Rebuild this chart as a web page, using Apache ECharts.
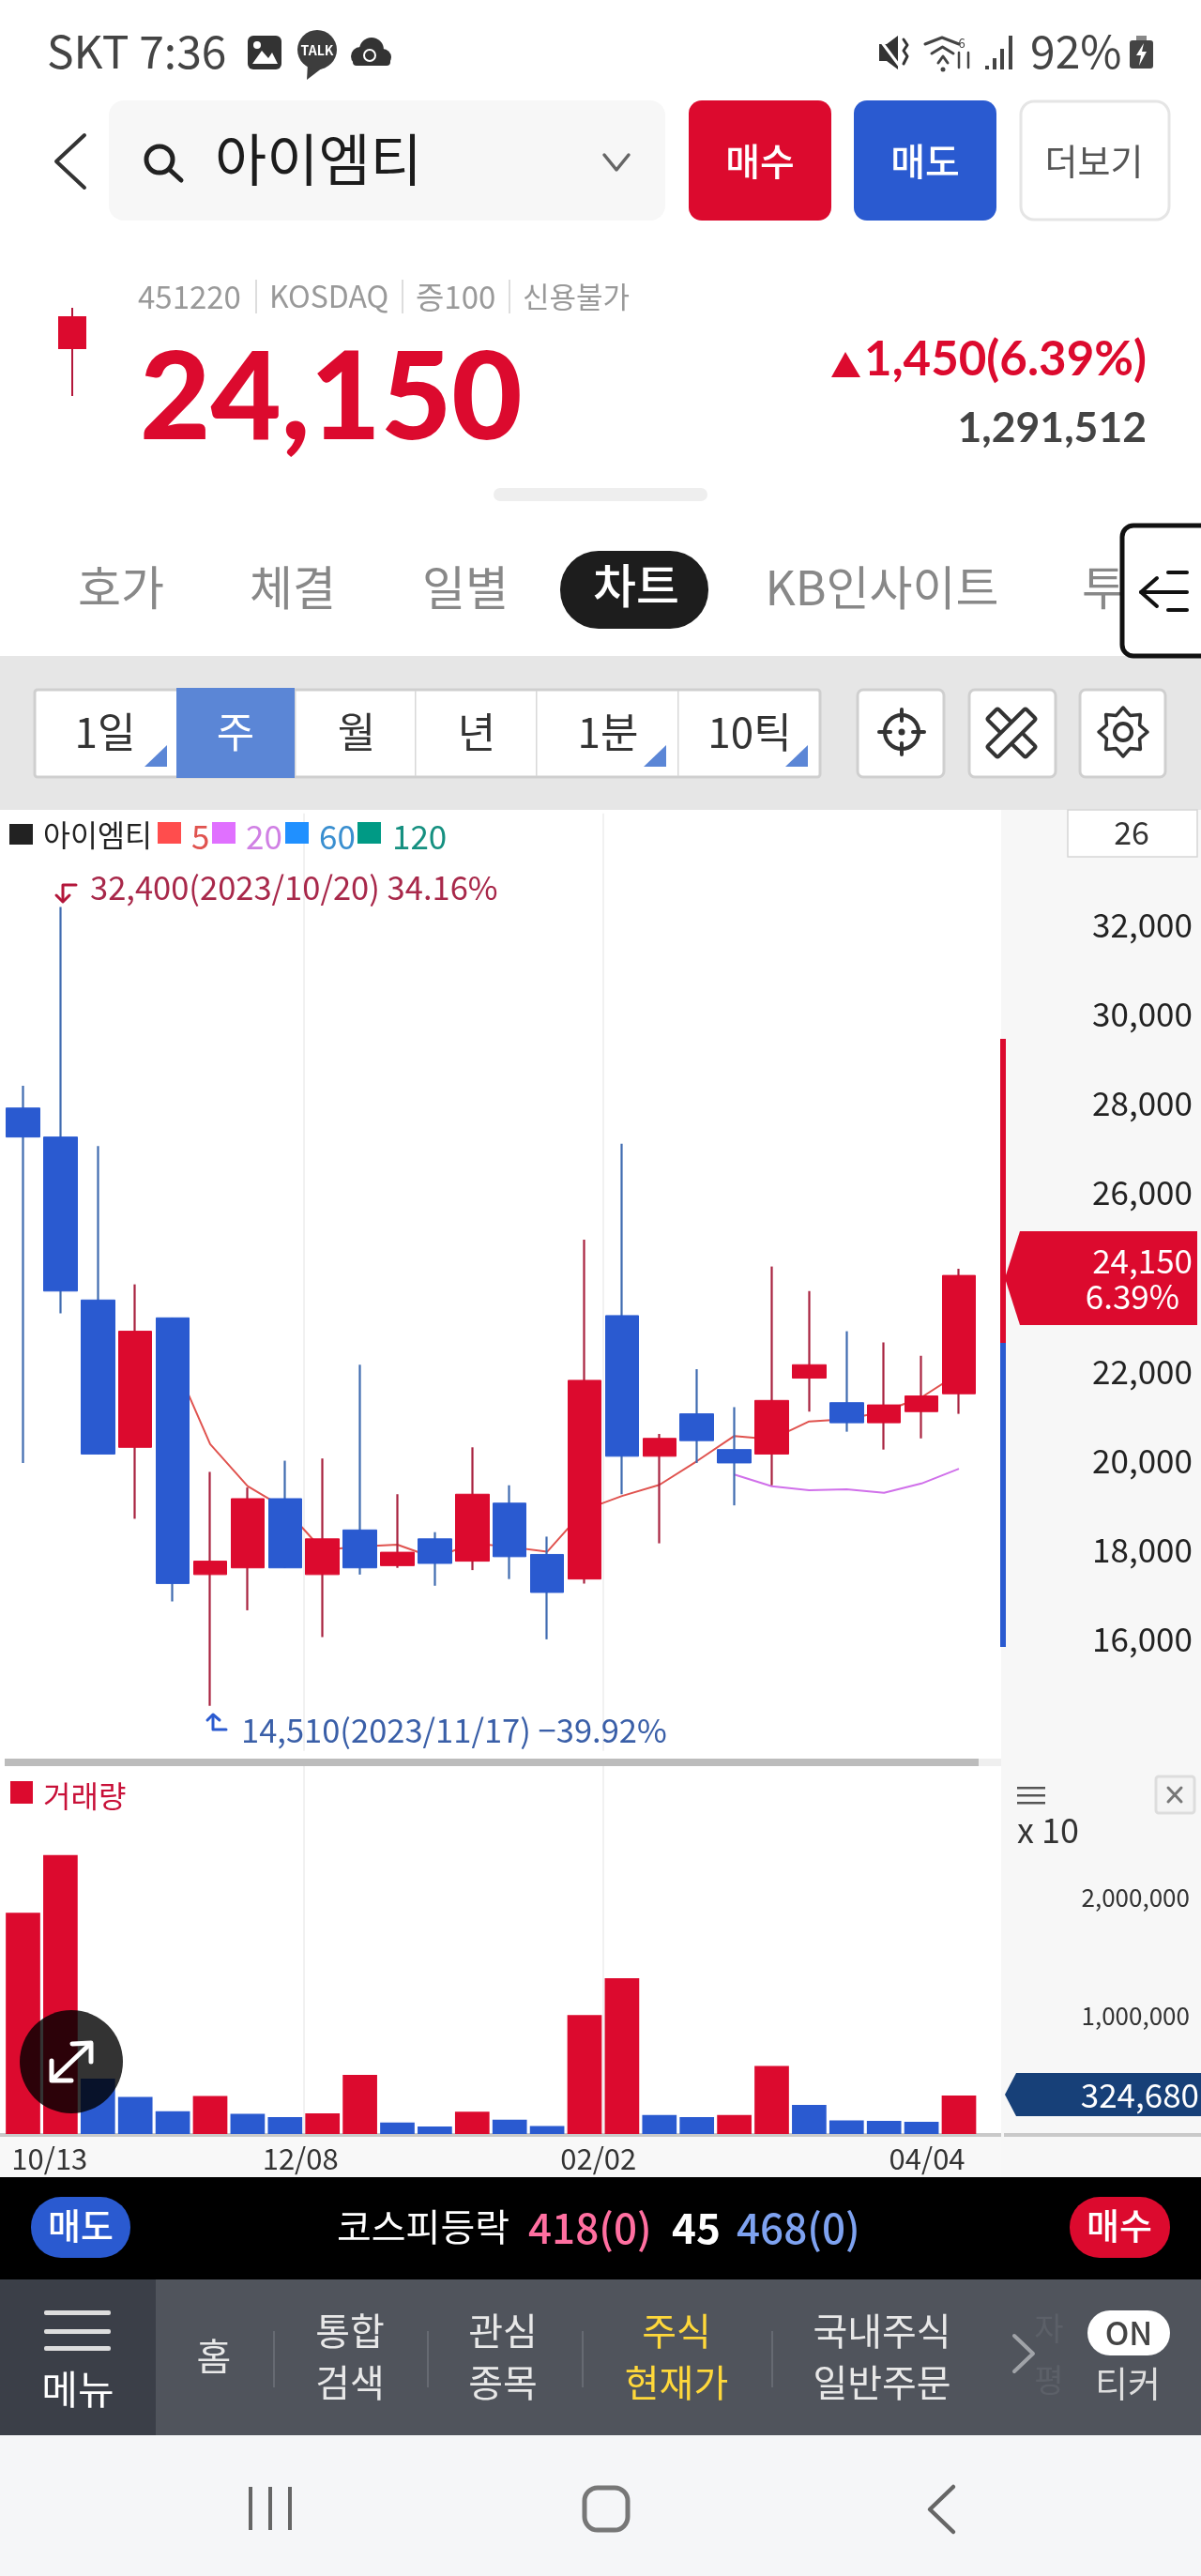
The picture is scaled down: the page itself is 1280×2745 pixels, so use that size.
<!DOCTYPE html>
<html><head><meta charset="utf-8">
<style>html,body{margin:0;padding:0;background:#fff}#c{width:1280px;height:2745px}</style>
<script src="https://cdn.jsdelivr.net/npm/echarts@6/dist/echarts.min.js"></script>
</head><body><div id="c"></div>
<script>
// ---------- data ----------
const weeks = ['10/13','10/20','10/27','11/03','11/10','11/17','11/24','12/01','12/08','12/15','12/22','12/29','01/05','01/12','01/19','01/26','02/02','02/09','02/16','02/23','03/01','03/08','03/15','03/22','03/29','04/04'];
const opens  = [27900,27250,23600,20300,23200,17450,17600,19150,17450,18450,17650,18250,17750,19050,17900,17350,23250,20100,21050,20250,20150,21850,21300,20850,21100,21500];
const closes = [27250,23800,20150,22900,17250,17750,19150,17600,18250,17600,17950,17700,19250,17850,17050,21800,20100,20500,20450,19950,21350,22150,20850,21250,21450,24150];
const highs  = [28400,32400,27050,23950,23200,19750,19400,20000,20050,22150,19250,18400,20300,19450,18300,24950,27100,20600,22050,21200,24350,23800,22900,22650,22350,24300];
const lows   = [19950,23300,20150,18700,16850,14510,16650,17600,16050,17450,17600,17200,17550,17350,16000,17250,19250,18150,19950,19000,19450,21100,20650,20250,20500,21050];
const ma5    = [null,null,null,null,22290,20370,19430,18930,18000,18080,18120,17820,18150,18070,17960,18900,19210,19460,19990,20555,20480,20880,20930,21100,21420,21960];
const ma20   = [null,null,null,null,null,null,null,null,null,null,null,null,null,null,null,null,null,null,null,19690,19430,19340,19360,19280,19490,19820];
const volumes= [1870000,2358000,469000,313000,192000,321000,170000,143000,174000,500000,98000,63000,188000,121000,67000,1005000,1317000,161000,143000,161000,576000,246000,116000,112000,103000,324680];
const volumeSide = ['r','r','b','b','b','r','b','b','r','r','b','b','r','b','b','r','r','b','b','r','r','b','b','b','b','r'];
const priceTicks = [16000,18000,20000,22000,26000,28000,30000,32000];
const volumeTicks = [1000000,2000000];
const dateTickNames = ['10/13','12/08','02/02','04/04'];
const gridDates = ['12/08','02/02'];

// ---------- layout ----------
const FONT='"Noto Sans CJK KR","Noto Sans",sans-serif';
const LATO='Lato,"Noto Sans",sans-serif';
const RED='#dc0a2e',BLUE='#2a5ad0',WRED='#a8223f',WBLUE='#3f6bb0';
const dateTickPos=[0.71,7.41,15.37,24.15];
const G=[];
const t=(s,x,y,size,fill,align='center',weight='normal',z=5,fam=FONT,sx=1)=>G.push({type:'text',x,y,z,scaleX:sx,silent:true,style:{text:s,fontFamily:fam,fontSize:size,fontWeight:weight,fill,align,verticalAlign:'middle'}});
const r=(x,y,w,h,fill,o={})=>G.push({type:'rect',z:o.z??1,silent:true,shape:{x,y,width:w,height:h,r:o.r||0},style:{fill,stroke:o.stroke||null,lineWidth:o.lw||0}});
const pl=(pts,stroke,lw=4,z=5)=>G.push({type:'polyline',z,silent:true,shape:{points:pts},style:{stroke,lineWidth:lw,fill:null,lineCap:'round',lineJoin:'round'}});
const pg=(pts,fill,z=4)=>G.push({type:'polygon',z,silent:true,shape:{points:pts},style:{fill}});
const c=(x,y,rad,fill,stroke,lw,z=5)=>G.push({type:'circle',z,silent:true,shape:{cx:x,cy:y,r:rad},style:{fill:fill||null,stroke:stroke||null,lineWidth:lw||0}});

// backgrounds
r(0,0,1280,863,'#ffffff',{z:-10});
r(0,699,1280,164,'#e6e6e6',{z:-9});
r(0,863,1280,1457,'#ffffff',{z:-9});
r(1067,863,213,1457,'#f7f7f7',{z:-8});
r(0,2277,1067,43,'#f8f8f8',{z:-8});

// status bar
t('SKT 7:36',50,55,48,'#444','left');
r(264,38,36,36,'#333',{r:6}); c(274,48,4,'#fff'); pg([[269,68],[279,54],[286,62],[290,56],[296,68]],'#fff',6);
c(338,53,21,'#3d3d3d'); pg([[328,68],[327,85],[344,72]],'#3d3d3d'); t('TALK',338,54,14,'#fff','center','bold',6);
c(384,60,10,'#333'); c(396,53,13,'#333'); c(408,61,9,'#333'); r(376,60,40,10,'#333',{r:4,z:4}); c(394,59,6,null,'#fff',2,6);
pg([[937,47],[945,47],[957,38],[957,74],[945,65],[937,65]],'#333'); pl([[963,42],[967,48],[963,54],[967,60],[963,68]],'#333',3);pl([[936,40],[960,72]],'#fff',3,6);
[[986,44,1022,44],[993,54,1016,54],[1000,64,1010,64]].forEach(a=>pl([[a[0],a[1]+3],[(a[0]+a[2])/2,a[1]-4],[a[2],a[1]+3]],'#444',3));
c(1005,74,2.5,'#444'); t('6',1025,46,13,'#444'); pl([[1022,56],[1022,72]],'#444',2.5); pl([[1032,56],[1032,72]],'#444',2.5);
[[1050,70],[1058,62],[1066,52],[1075,38]].forEach(a=>r(a[0],a[1],4,74-a[1],'#444'));
t('92%',1098,55,48,'#444','left');
r(1204,43,25,30,'#444',{r:3}); r(1211,38,11,5,'#888'); pg([[1219,46],[1211,59],[1216,59],[1214,70],[1222,55],[1217,55]],'#fff',6);

// header
pl([[90,144],[60,172],[90,200]],'#333',4);
r(116,107,593,128,'#f7f7f7',{r:16});
c(170,170,14,null,'#222',5); pl([[181,181],[193,192]],'#222',5);
t('아이엠티',229,170,60,'#1c1c1c','left');
pl([[644,165],[657,181],[670,165]],'#666',3.5);
r(734,107,152,128,RED,{r:14}); t('매수',810,172,40,'#fff','center',500);
r(910,107,152,128,BLUE,{r:14}); t('매도',986,172,40,'#fff','center',500);
r(1088,108,158,126,'#fff',{r:14,stroke:'#e5e5e5',lw:3}); t('더보기',1166,172,38,'#555');

// quote block
t('451220',147,316,33,'#999','left'); r(272,298,2,36,'#ddd');
t('KOSDAQ',287,316,32,'#999','left'); r(428,298,2,36,'#ddd');
t('증100',443,316,33,'#999','left'); r(542,298,2,36,'#ddd');
t('신용불가',557,316,31,'#999','left');
r(76,328,2,94,'#b3163a'); r(62,337,30,35,RED);
t('24,150',149,426,130,'#dc0a2e','left',900,5,LATO);
pg([[886,402],[901,375],[917,402]],RED);
t('1,450(6.39%)',1222,384,51,RED,'right','bold',5,LATO);
t('1,291,512',1222,457,44.5,'#444','right','bold',5,LATO);
r(526,520,228,14,'#eeeeee',{r:7});

// tabs
t('호가',129,626,50,'#888'); t('체결',312,626,50,'#888'); t('일별',496,626,50,'#888');
r(597,587,158,83,'#1d1d1d',{r:41}); t('차트',678,624,50,'#fff','center',500);
t('KB인사이트',940,626,50,'#888'); t('투',1176,626,50,'#888');
r(1196,560,100,139,'#fff',{r:12,stroke:'#111',lw:5,z:6});
pl([[1216,631],[1265,631]],'#111',4,7); pl([[1233,616],[1216,631],[1233,646]],'#111',4,7); pl([[1245,610],[1265,610]],'#111',4,7); pl([[1245,650],[1265,650]],'#111',4,7);

// period toolbar
r(37,735,837,93,'#fff',{stroke:'#cfcfcf',lw:3,r:3});
r(188,733,126,96,'#5b86d6',{z:2});
[314,442,571,722].forEach(x=>r(x,736,1.5,91,'#d8d8d8',{z:2}));
[['1일',112],['주',251,'#fff'],['월',380],['년',508],['1분',648],['10틱',799]].forEach(a=>t(a[0],a[1],780,44,a[2]||'#333'));
[178,710,861].forEach(x=>pg([[x,794],[x,817],[x-24,817]],'#5b86d6'));
[[914,92],[1033,92],[1151,91]].forEach(a=>r(a[0],735,a[1],93,'#fff',{stroke:'#cfcfcf',lw:3,r:6}));
c(961,780,18,null,'#333',4); c(961,780,3.5,'#333'); [[961,756,961,768],[961,792,961,804],[937,780,949,780],[973,780,985,780]].forEach(a=>pl([[a[0],a[1]],[a[2],a[3]]],'#333',4));
[Math.PI/4,-Math.PI/4].forEach(a=>G.push({type:'rect',z:5,silent:true,rotation:a,x:1078,y:781,shape:{x:-8,y:-29,width:16,height:58,r:2},style:{fill:'#fff',stroke:'#333',lineWidth:4}}));
c(1197,780,9,null,'#333',4);
{const o=[];for(let i=0;i<16;i++){const R=i%2?19:26,a=i*Math.PI/8;o.push([1197+R*Math.sin(a),780-R*Math.cos(a)]);}o.push(o[0]);pl(o,'#333',3.5);}

// price panel chrome
r(10,878,25,22,'#222'); t('아이엠티',46,890,31.5,'#222','left');
r(168,876,25,23,'#ff4d4d'); t('5',204,892,35,'#e0534f','left');
r(226,876,25,23,'#e070ff'); t('20',262,892,35,'#d080e4','left');
r(304,876,25,23,'#2090ff'); t('60',340,892,35,'#3a8fd0','left');
r(381,876,25,23,'#009a85'); t('120',418,892,35,'#159080','left');
pl([[81,943],[67,943],[67,960]],'#b3163a',3); pl([[60,954],[67,961],[74,954]],'#b3163a',3);
t('32,400(2023/10/20) 34.16%',96,946,34.5,'#a8284a','left');
pl([[241,1843],[227,1843],[227,1828]],BLUE,3); pl([[221,1833],[227,1827],[234,1833]],BLUE,3);
t('14,510(2023/11/17) −39.92%',257,1844,34.5,'#3a5fa8','left');
r(1138,863,138,50,'#fff',{stroke:'#d6d6d6',lw:1.5}); t('26',1206,887,34,'#333');
r(1066,1107,6,324,RED,{z:6}); r(1066,1431,6,324,BLUE,{z:6});
pg([[1071,1362],[1087,1312],[1276,1312],[1276,1412],[1087,1412]],RED,6);
t('24,150',1271,1344,35,'#fff','right','normal',7); t('6.39%',1257,1382,35,'#fff','right','normal',7);
r(5,1874,1038,8,'#bcbcbc',{z:3}); r(1043,1874,24,8,'#efefef',{z:3});

// volume panel chrome
r(11,1898,24,24,RED); t('거래량',46,1914,32,'#c81038','left');
[1904,1912,1920].forEach(y=>r(1084,y,30,2.5,'#555'));
t('x 10',1084,1950,36,'#333','left');
r(1232,1893,41,39,'#f4f4f4',{stroke:'#ddd',lw:3,r:3}); pl([[1245,1905],[1259,1920]],'#777',3); pl([[1259,1905],[1245,1920]],'#777',3);
pg([[1071,2232],[1083,2209],[1280,2209],[1280,2255],[1083,2255]],'#174078',6);
t('324,680',1278,2233,35,'#fff','right','normal',7);
r(0,2273,1067,4,'#c9c9c9',{z:3}); r(1070,2273,210,4,'#c9c9c9',{z:3});
c(76,2197,55,'rgba(0,0,0,0.8)',null,0,20);
pl([[57,2215],[96,2178]],'#fff',5,21); pl([[77,2178],[97,2177],[97,2197]],'#fff',5,21); pl([[55,2196],[55,2217],[76,2217]],'#fff',5,21);

// market strip
r(0,2320,1280,109,'#000');
r(33,2341,106,65,BLUE,{r:32}); t('매도',86,2372,38,'#fff','center',500);
r(1140,2341,107,65,RED,{r:32}); t('매수',1193,2372,38,'#fff','center',500);
t('코스피등락',359,2373,40,'#fff','left');
t('418(0)',563,2374,44,'#ff6fa0','left',500); t('45',716,2374,44,'#fff','left','bold'); t('468(0)',785,2374,44,'#7ea2f0','left',500);

// bottom menu
r(0,2429,1280,166,'#50545c'); r(0,2429,166,166,'#3b3f48',{z:2});
[2464,2484,2502].forEach(y=>r(47,y-2,71,5,'#dddddd',{r:2,z:3}));
t('메뉴',83,2546,42,'#fff');
t('홈',228,2511,40,'#e8e8e8');
[291,455,620,822].forEach(x=>r(x,2484,2,60,'#666a72',{z:3}));
t('통합',373,2484,40,'#e8e8e8'); t('검색',373,2539,40,'#e8e8e8');
t('관심',536,2484,40,'#e8e8e8'); t('종목',536,2539,40,'#e8e8e8');
t('주식',721,2484,40,'#ffd83a'); t('현재가',721,2539,40,'#ffd83a');
t('국내주식',940,2484,40,'#e8e8e8'); t('일반주문',940,2539,40,'#e8e8e8');
t('자',1118,2481,34,'#5c6068'); t('평',1118,2536,34,'#5c6068');
pl([[1081,2489],[1101,2508],[1081,2527]],'#a0a3a8',4);
r(1159,2462,88,48,'#fff',{r:24}); t('ON',1203,2486,34,'#444','center',500);
t('티커',1202,2540,38,'#ddd');

// android nav
r(0,2595,1280,150,'#f5f6f8');
[267,288,309].forEach(x=>r(x-2,2650,4,46,'#666'));
r(623,2651,46,45,null,{r:14,stroke:'#777',lw:5,z:5});
pl([[1016,2650],[991,2674],[1016,2698]],'#666',4.5);

// ---------- chart ----------
const gridX=4.55, gridW=1037.4;
const candleData=weeks.map((_,i)=>[opens[i],closes[i],lows[i],highs[i]]);
const bodyData=weeks.map((_,i)=>[opens[i],closes[i],Math.min(opens[i],closes[i]),Math.max(opens[i],closes[i])]);
const axisText={fontFamily:FONT,color:'#222'};
const sl={show:true,showMinLine:true,showMaxLine:false,interval:(i,v)=>gridDates.includes(v),lineStyle:{color:'#ececec',width:1.5}};
const option={
 animation:false,backgroundColor:'transparent',
 graphic:{elements:G},
 grid:[{left:gridX,width:gridW,top:866.7,height:999.1},{left:gridX,width:gridW,top:1882,height:392}],
 xAxis:[
  {type:'category',gridIndex:0,data:weeks,boundaryGap:true,axisLine:{show:false},axisTick:{show:false},axisLabel:{show:false},splitLine:sl},
  {type:'category',gridIndex:1,data:weeks,boundaryGap:true,axisLine:{show:false},axisTick:{show:false},axisLabel:{show:false},splitLine:sl},
  {type:'value',gridIndex:1,position:'bottom',min:-0.5,max:weeks.length-0.5,splitLine:{show:false},axisLine:{show:false},axisTick:{show:false},
   axisLabel:{customValues:dateTickPos,formatter:v=>dateTickNames[dateTickPos.indexOf(v)],margin:11,fontSize:31,...axisText,color:'#333',showMinLabel:true,showMaxLabel:true,hideOverlap:false}}
 ],
 yAxis:[
  {type:'value',gridIndex:0,position:'right',min:13500,max:34500,splitLine:{show:false},axisLine:{show:false},axisTick:{show:false},
   axisLabel:{customValues:priceTicks,margin:229,align:'right',fontSize:35,...axisText,formatter:v=>v.toLocaleString('en-US')}},
  {type:'value',gridIndex:1,position:'right',min:0,max:3110000,splitLine:{show:false},axisLine:{show:false},axisTick:{show:false},
   axisLabel:{customValues:volumeTicks,margin:226,align:'right',fontSize:26,...axisText,color:'#333',formatter:v=>v.toLocaleString('en-US')}}
 ],
 series:[
  {name:'5',type:'line',xAxisIndex:0,yAxisIndex:0,data:ma5,z:2,showSymbol:false,symbol:'none',lineStyle:{color:'#e0534f',width:2},connectNulls:false},
  {name:'20',type:'line',xAxisIndex:0,yAxisIndex:0,data:ma20,z:2,showSymbol:false,symbol:'none',lineStyle:{color:'#d070ea',width:2}},
  {name:'아이엠티 고저',type:'candlestick',xAxisIndex:0,yAxisIndex:0,data:candleData,z:3,barWidth:1,itemStyle:{color:WRED,color0:WBLUE,borderColor:WRED,borderColor0:WBLUE,borderWidth:2.2}},
  {name:'아이엠티',type:'candlestick',xAxisIndex:0,yAxisIndex:0,data:bodyData,z:4,barWidth:36,itemStyle:{color:RED,color0:BLUE,borderColor:RED,borderColor0:BLUE,borderWidth:1}},
  {name:'거래량',type:'bar',xAxisIndex:1,yAxisIndex:1,barWidth:36.7,z:3,data:volumes.map((v,i)=>({value:v,itemStyle:{color:volumeSide[i]==='r'?RED:BLUE}}))}
 ]
};
const chart=echarts.init(document.getElementById('c'),null,{renderer:'canvas',width:1280,height:2745});
chart.setOption(option);
</script></body></html>
